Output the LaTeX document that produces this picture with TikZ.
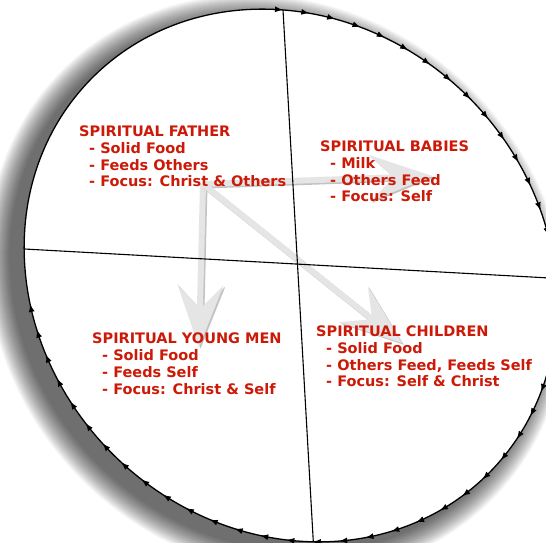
\documentclass[tikz,border=0pt]{standalone}
\usepackage{fontspec}
\setmainfont{DejaVu Sans}
\usepackage{xcolor}
\usepackage{tikz}
\usetikzlibrary{arrows.meta,decorations.markings}
\definecolor{stagered}{RGB}{204,26,8}

\begin{document}
\begin{tikzpicture}[x=1pt,y=-1pt,
  quad/.style={anchor=base west,inner sep=0pt,align=left,text=stagered,font=\bfseries\fontsize{14.5}{16.7}\selectfont},
  flow/.style={line width=6pt,black!10,-{Stealth[length=62pt,width=46pt,inset=24pt,line width=0.1pt]}},
  orbit/.style={line width=1.3pt,postaction=decorate,decoration={markings,
    mark=between positions 0 and 0.735 step 26.5pt with {\arrow{Latex[length=8pt,width=6pt]}}}}]
  \useasboundingbox (0,0) rectangle (546,543);
  \clip (0,0) rectangle (546,543);
  \fill[white] (0,0) rectangle (546,543);
  \begin{scope}[shift={(277,285)},rotate=-45]
    \foreach \r in {1,...,24}
      \fill[black,opacity=.03] (0,0) ellipse [x radius=280+\r, y radius=252+\r];
  \end{scope}
  \begin{scope}[shift={(290.5,275.5)},rotate=-45]
    \fill[white] (0,0) ellipse [x radius=280, y radius=252];
    \coordinate (rimN) at (226.4:280 and 252);
    \coordinate (rimS) at (43.1:280 and 252);
    \coordinate (rimW) at (137.7:280 and 252);
    \coordinate (rimE) at (-47.4:280 and 252);
  \end{scope}
  \coordinate (hub) at (203,184);
  \coordinate (babyTip) at (432,176);
  \coordinate (youngTip) at (199,347);
  \coordinate (childTip) at (402,343);
  \foreach \tip in {babyTip,youngTip,childTip} {
    \draw[flow,black!24] ([shift={(1.5,1.5)}]hub) -- ([shift={(1.5,1.5)}]\tip);
    \draw[flow] (hub) -- (\tip);
  }
  \begin{scope}[shift={(290.5,275.5)},rotate=-45]
    \draw[orbit] (rimN) arc[start angle=226.4, end angle=586.4, x radius=280, y radius=252];
  \end{scope}
  \draw[line width=1.1pt] (rimN) -- (rimS);
  \draw[line width=1.1pt] (rimW) -- (rimE);
  \node[quad] (father) at (79,186.8) {SPIRITUAL FATHER\\\hspace*{10pt}- Solid Food\\\hspace*{10pt}- Feeds Others\\\hspace*{10pt}- Focus: Christ \& Others};
  \node[quad] (babies) at (320,201.8) {SPIRITUAL BABIES\\\hspace*{10pt}- Milk\\\hspace*{10pt}- Others Feed\\\hspace*{10pt}- Focus: Self};
  \node[quad] (young) at (92,394) {SPIRITUAL YOUNG MEN\\\hspace*{10pt}- Solid Food\\\hspace*{10pt}- Feeds Self\\\hspace*{10pt}- Focus: Christ \& Self};
  \node[quad] (children) at (316,386.8) {SPIRITUAL CHILDREN\\\hspace*{10pt}- Solid Food\\\hspace*{10pt}- Others Feed, Feeds Self\\\hspace*{10pt}- Focus: Self \& Christ};
\end{tikzpicture}
\end{document}
